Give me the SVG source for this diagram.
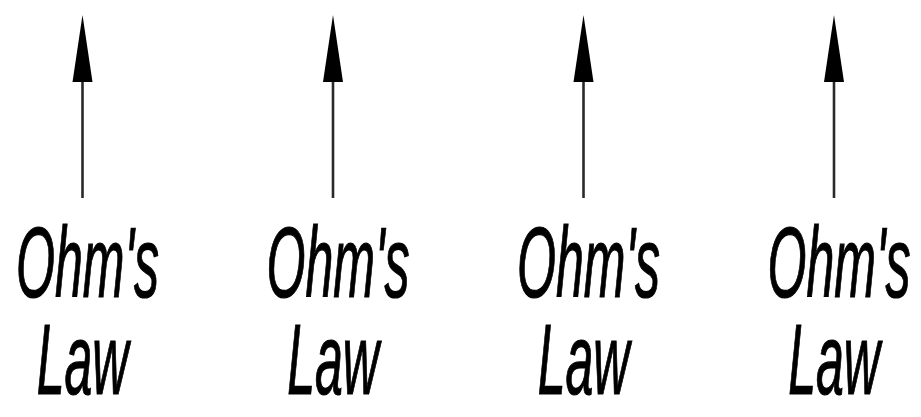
<svg xmlns="http://www.w3.org/2000/svg" width="921" height="417" viewBox="0 0 921 417">
<style>
.lbl{font-family:"Liberation Sans",Arial,sans-serif;font-style:italic;font-size:100px;fill:#000;stroke:#000;stroke-width:1.2;text-anchor:middle}
.ln{stroke:#2a2a2a;stroke-width:2.6;fill:none}
.hd{fill:#000}
</style>
<rect width="921" height="417" fill="#fff"/>
<g id="connectors">
<g id="a1"><line class="ln" x1="82.5" y1="198" x2="82.5" y2="75"/><polygon class="hd" points="82.5,15 92.5,82 72.5,82"/></g>
<g id="a2"><line class="ln" x1="333" y1="198" x2="333" y2="75"/><polygon class="hd" points="333,15 343,82 323,82"/></g>
<g id="a3"><line class="ln" x1="583.5" y1="198" x2="583.5" y2="75"/><polygon class="hd" points="583.5,15 593.5,82 573.5,82"/></g>
<g id="a4"><line class="ln" x1="834" y1="198" x2="834" y2="75"/><polygon class="hd" points="834,15 844,82 824,82"/></g>
</g>
<g id="n1" transform="translate(82.5,0) scale(0.5,1)"><text class="lbl" x="10" y="297">Ohm's</text><text class="lbl" x="0" y="394">Law</text></g>
<g id="n2" transform="translate(333,0) scale(0.5,1)"><text class="lbl" x="10" y="297">Ohm's</text><text class="lbl" x="0" y="394">Law</text></g>
<g id="n3" transform="translate(583.5,0) scale(0.5,1)"><text class="lbl" x="10" y="297">Ohm's</text><text class="lbl" x="0" y="394">Law</text></g>
<g id="n4" transform="translate(834,0) scale(0.5,1)"><text class="lbl" x="10" y="297">Ohm's</text><text class="lbl" x="0" y="394">Law</text></g>
</svg>
